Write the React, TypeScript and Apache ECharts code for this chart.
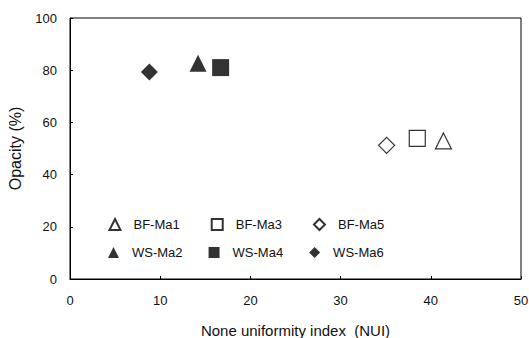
import React, { useEffect, useRef } from "react";
import * as echarts from "echarts";

const seriesNames = ["BF-Ma1", "BF-Ma3", "BF-Ma5", "WS-Ma2", "WS-Ma4", "WS-Ma6"];
const seriesSymbols = ["triangle", "rect", "diamond", "triangle", "rect", "diamond"];
const seriesFilled = [false, false, false, true, true, true];
const nuiValues = [41.4, 38.5, 35.1, 14.2, 16.7, 8.8];
const opacityValues = [52.9, 53.9, 51.2, 82.7, 81.0, 79.3];
const xTicks = [0, 10, 20, 30, 40, 50];
const yTicks = [0, 20, 40, 60, 80, 100];

const FONT = "Liberation Sans, Arial, sans-serif";

export default function App() {
  const ref = useRef<HTMLDivElement>(null);
  useEffect(() => {
    document.body.style.margin = "0";
    if (!ref.current) return;
    const chart = echarts.init(ref.current, undefined, { renderer: "svg" });
    const series = seriesNames.map((name, i) => ({
      name,
      type: "scatter",
      symbol: seriesSymbols[i],
      symbolSize: seriesFilled[i] ? 17 : 16,
      data: [[nuiValues[i], opacityValues[i]]],
      itemStyle: seriesFilled[i]
        ? { color: "#000", borderColor: "#000", borderWidth: 0 }
        : { color: "#fff", borderColor: "#000", borderWidth: 1.2 },
    }));
    const legendBase = {
      orient: "horizontal",
      padding: 0,
      itemWidth: 11,
      itemHeight: 11,
      textStyle: { fontFamily: FONT, fontSize: 13, color: "#111", padding: [0, 0, 0, 8] },
      selectedMode: false,
    };
    chart.setOption({
      animation: false,
      backgroundColor: "#fff",
      textStyle: { fontFamily: FONT },
      grid: {
        left: 70,
        right: 8,
        top: 18,
        bottom: 59,
        containLabel: false,
        outerBoundsMode: "none",
        show: true,
        borderColor: "#000",
        borderWidth: 1,
        backgroundColor: "transparent",
      },
      legend: [
        { ...legendBase, itemGap: 31, left: 108.5, top: 218, data: seriesNames.slice(0, 3) },
        { ...legendBase, itemGap: 26, left: 108, top: 246, data: seriesNames.slice(3, 6) },
      ],
      xAxis: {
        type: "value",
        min: xTicks[0],
        max: xTicks[xTicks.length - 1],
        interval: 10,
        name: "None uniformity index  (NUI)",
        nameLocation: "middle",
        nameGap: 44,
        nameTextStyle: { fontFamily: FONT, fontSize: 15, color: "#111" },
        axisLine: { show: true, lineStyle: { color: "#000", width: 1 } },
        axisTick: { show: true, inside: true, length: 3, lineStyle: { color: "#000" } },
        axisLabel: { fontFamily: FONT, fontSize: 13, color: "#111", margin: 15 },
        splitLine: { show: false },
      },
      yAxis: {
        type: "value",
        min: yTicks[0],
        max: yTicks[yTicks.length - 1],
        interval: 20,
        name: "Opacity (%)",
        nameLocation: "middle",
        nameGap: 47,
        nameTextStyle: { fontFamily: FONT, fontSize: 16, color: "#111" },
        axisLine: { show: true, lineStyle: { color: "#000", width: 1 } },
        axisTick: { show: true, inside: true, length: 3, lineStyle: { color: "#000" } },
        axisLabel: { fontFamily: FONT, fontSize: 13, color: "#111", margin: 13 },
        splitLine: { show: false },
      },
      series,
    });
    return () => chart.dispose();
  }, []);
  return <div ref={ref} style={{ width: 529, height: 338 }} />;
}
